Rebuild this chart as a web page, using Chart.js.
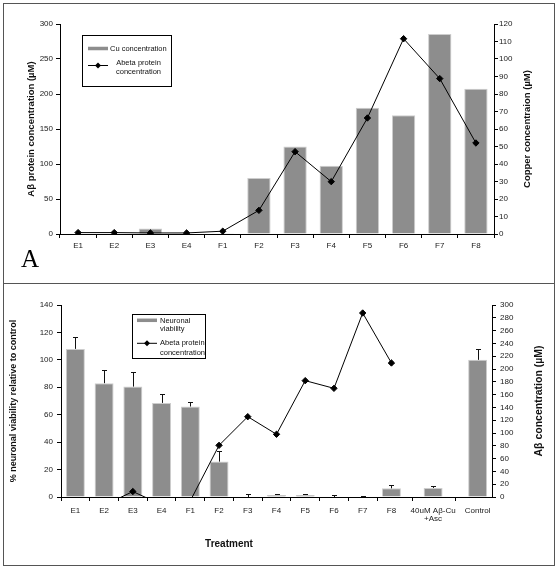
<!DOCTYPE html>
<html>
<head>
<meta charset="utf-8">
<script src="https://cdn.jsdelivr.net/npm/chart.js@4.4.1/dist/chart.umd.min.js"></script>
<style>
  html, body { margin: 0; padding: 0; background: #fff; width: 558px; height: 569px; overflow: hidden; }
  canvas { position: absolute; left: 0; }
  #topChart { top: 0; }
  #bottomChart { top: 283px; }
  #frame { position: absolute; left: 3px; top: 3px; width: 550px; height: 561px; border: 1px solid #555; pointer-events: none; }
  #divider { position: absolute; left: 3px; top: 283px; width: 552px; height: 1px; background: #555; }
</style>
</head>
<body>
<canvas id="topChart" width="558" height="283"></canvas>
<canvas id="bottomChart" width="558" height="286"></canvas>
<div id="frame"></div>
<div id="divider"></div>
<script>
/* ─── Data ─────────────────────────────────────── */

// panel A
const topCats = ['E1', 'E2', 'E3', 'E4', 'F1', 'F2', 'F3', 'F4', 'F5', 'F6', 'F7', 'F8'];
const cuConc = [0.3, 0.3, 3.2, 0.3, 0.5, 32, 50, 39, 72.2, 67.8, 114.3, 83];
const abetaTop = [2, 2, 1.5, 1.5, 4, 33.8, 117.6, 74.8, 165.7, 279, 222, 130];

// panel B (40uM sits a little right of its slot in the original)
const bottomCats = ['E1', 'E2', 'E3', 'E4', 'F1', 'F2', 'F3', 'F4', 'F5', 'F6', 'F7', 'F8', ['40uM Aβ-Cu', '+Asc'], 'Control'];
const bottomSlots = [0.5, 1.5, 2.5, 3.5, 4.5, 5.5, 6.5, 7.5, 8.5, 9.5, 10.5, 11.5, 12.95, 14.5];
const viability = [108, 83, 80.5, 68.6, 66, 25.8, 0, 1.5, 1.5, 0, 0, 6.3, 6.6, 100];
const viabilitySD = [9, 9.4, 11, 6.8, 3.3, 8, 2, 0.8, 0.8, 1.7, 1, 2.4, 1.6, 8];
const abetaBottom = [-10, -13, 8.5, -12, -6, 80.7, 125.5, 98, 181.8, 169.8, 287.5, 209.4];

/* ─── Styling ──────────────────────────────────── */

const FONT = "'Liberation Sans', Arial, sans-serif";
const BAR_GREY = '#8d8d8d';
Chart.defaults.font.family = FONT;
Chart.defaults.color = '#1a1a1a';

const axisGrid = { drawOnChartArea: false, tickLength: 4, tickColor: '#000', color: '#000' };
const tickFont = { size: 8 };

function diamond(ctx, x, y, r) {
  ctx.beginPath();
  ctx.moveTo(x, y - r); ctx.lineTo(x + r, y); ctx.lineTo(x, y + r); ctx.lineTo(x - r, y);
  ctx.closePath(); ctx.fill();
}

function vText(ctx, text, x, y, font) {
  ctx.save();
  ctx.translate(x, y); ctx.rotate(-Math.PI / 2);
  ctx.font = font; ctx.textAlign = 'center'; ctx.textBaseline = 'middle';
  ctx.fillText(text, 0, 0);
  ctx.restore();
}

function legendBox(ctx, box, swatch, lineSample) {
  ctx.save();
  ctx.strokeStyle = '#000'; ctx.lineWidth = 1;
  ctx.strokeRect(box.x, box.y, box.w, box.h);
  ctx.fillStyle = BAR_GREY;
  ctx.fillRect(swatch.x, swatch.y - 1.75, 20, 3.5);
  ctx.strokeStyle = '#000';
  ctx.beginPath(); ctx.moveTo(lineSample.x, lineSample.y); ctx.lineTo(lineSample.x + 20, lineSample.y); ctx.stroke();
  ctx.fillStyle = '#000';
  diamond(ctx, lineSample.x + 10, lineSample.y, 3);
  ctx.restore();
}

function labelText(ctx, text, x, y, align) {
  ctx.save();
  ctx.font = `7.5px ${FONT}`; ctx.fillStyle = '#111';
  ctx.textAlign = align; ctx.textBaseline = 'middle';
  ctx.fillText(text, x, y);
  ctx.restore();
}

/* ─── Panel A ──────────────────────────────────── */

const topDecor = {
  id: 'topDecor',
  afterDraw(chart) {
    const { ctx } = chart;
    ctx.fillStyle = '#111';
    vText(ctx, 'Aβ protein concentration (µM)', 31, 129, `bold 9.5px ${FONT}`);
    vText(ctx, 'Copper concentraion (µM)', 527, 129, `bold 9.5px ${FONT}`);

    ctx.save();
    ctx.font = "25px 'Liberation Serif', 'Times New Roman', serif";
    ctx.fillStyle = '#000'; ctx.textBaseline = 'alphabetic';
    ctx.fillText('A', 21, 267);
    ctx.restore();

    legendBox(ctx, { x: 82.5, y: 35.5, w: 89, h: 51 }, { x: 88, y: 48.5 }, { x: 88, y: 65.5 });
    labelText(ctx, 'Cu concentration', 110, 48.7, 'left');
    labelText(ctx, 'Abeta protein', 138.5, 62.5, 'center');
    labelText(ctx, 'concentration', 138.5, 71.5, 'center');
  }
};

new Chart(document.getElementById('topChart'), {
  type: 'bar',
  data: {
    labels: topCats,
    datasets: [
      {
        type: 'line', label: 'Abeta protein concentration', data: abetaTop, yAxisID: 'y', order: 0,
        borderColor: '#000', borderWidth: 1, tension: 0,
        pointStyle: 'rectRot', pointRadius: 3.2, pointBackgroundColor: '#000', pointBorderColor: '#000', pointBorderWidth: 1,
      },
      {
        type: 'bar', label: 'Cu concentration', data: cuConc, yAxisID: 'y2', order: 1,
        backgroundColor: BAR_GREY, borderColor: '#cdcdcd', borderWidth: 1, borderSkipped: 'bottom',
        categoryPercentage: 1, barPercentage: 0.645,
      },
    ]
  },
  options: {
    responsive: false, animation: false,
    layout: { padding: { top: 24, left: 0, right: 0, bottom: 0 } },
    plugins: { legend: { display: false }, tooltip: { enabled: false } },
    scales: {
      x: {
        grid: { ...axisGrid, offset: true }, border: { color: '#000' },
        ticks: { font: tickFont, padding: 3, maxRotation: 0, autoSkip: false },
        afterFit: s => { s.height = 49; },
      },
      y: {
        position: 'left', min: 0, max: 300,
        grid: axisGrid, border: { color: '#000' },
        ticks: { stepSize: 50, font: tickFont, padding: 3, autoSkip: false },
        afterFit: s => { s.width = 60; },
      },
      y2: {
        position: 'right', min: 0, max: 120,
        grid: axisGrid, border: { color: '#000' },
        ticks: { stepSize: 10, font: tickFont, padding: 1, autoSkip: false },
        afterFit: s => { s.width = 64; },
      },
    },
  },
  plugins: [topDecor],
});

/* ─── Panel B ──────────────────────────────────── */

const errorBars = {
  id: 'errorBars',
  afterDatasetsDraw(chart) {
    const { ctx, scales: { x, y } } = chart;
    ctx.save();
    ctx.strokeStyle = '#111'; ctx.lineWidth = 1;
    viability.forEach((v, i) => {
      const px = Math.round(x.getPixelForValue(bottomSlots[i])) + 0.5;
      const y0 = y.getPixelForValue(v);
      const y1 = Math.round(y.getPixelForValue(v + viabilitySD[i])) + 0.5;
      ctx.beginPath();
      ctx.moveTo(px, y0); ctx.lineTo(px, y1);
      ctx.moveTo(px - 2.5, y1); ctx.lineTo(px + 2.5, y1);
      ctx.stroke();
    });
    ctx.restore();
  }
};

const bottomDecor = {
  id: 'bottomDecor',
  afterDraw(chart) {
    const { ctx } = chart;
    ctx.fillStyle = '#111';
    vText(ctx, '% neuronal viability relative to control', 14, 118, `bold 9px ${FONT}`);
    vText(ctx, 'Aβ concentration (µM)', 539, 118, `bold 10.5px ${FONT}`);

    ctx.save();
    ctx.font = `bold 10px ${FONT}`; ctx.fillStyle = '#111';
    ctx.textAlign = 'center'; ctx.textBaseline = 'middle';
    ctx.fillText('Treatment', 229, 261);
    ctx.restore();

    legendBox(ctx, { x: 132.5, y: 31.5, w: 73, h: 44 }, { x: 137, y: 37.3 }, { x: 137, y: 60.3 });
    labelText(ctx, 'Neuronal', 160, 37.7, 'left');
    labelText(ctx, 'viability', 160, 46.3, 'left');
    labelText(ctx, 'Abeta protein', 160, 60.3, 'left');
    labelText(ctx, 'concentration', 160, 69.8, 'left');
  }
};

new Chart(document.getElementById('bottomChart'), {
  type: 'bar',
  data: {
    datasets: [
      {
        type: 'line', label: 'Abeta protein concentration', yAxisID: 'y2', order: 0,
        data: abetaBottom.map((v, i) => ({ x: bottomSlots[i], y: v })),
        borderColor: '#000', borderWidth: 1, tension: 0,
        pointStyle: 'rectRot', pointRadius: 3.2, pointBackgroundColor: '#000', pointBorderColor: '#000', pointBorderWidth: 1,
      },
      {
        type: 'bar', label: 'Neuronal viability', yAxisID: 'y', order: 1,
        data: viability.map((v, i) => ({ x: bottomSlots[i], y: v })),
        backgroundColor: BAR_GREY, borderColor: '#cdcdcd', borderWidth: 1, borderSkipped: 'bottom',
        categoryPercentage: 1, barPercentage: 0.66,
      },
    ]
  },
  options: {
    responsive: false, animation: false,
    layout: { padding: { top: 22, left: 0, right: 0, bottom: 0 } },
    plugins: { legend: { display: false }, tooltip: { enabled: false } },
    scales: {
      x: {
        type: 'linear', min: 0, max: 15, offset: false,
        grid: { ...axisGrid, offset: true }, border: { color: '#000' },
        afterBuildTicks: s => { s.ticks = bottomSlots.map(v => ({ value: v })); },
        ticks: {
          font: { size: 8, lineHeight: 1.1 }, padding: 5, maxRotation: 0, autoSkip: false,
          callback: (v, i) => bottomCats[i],
        },
        afterFit: s => { s.height = 72; },
      },
      y: {
        position: 'left', min: 0, max: 140,
        grid: axisGrid, border: { color: '#000' },
        ticks: { stepSize: 20, font: tickFont, padding: 4, autoSkip: false },
        afterFit: s => { s.width = 61; },
      },
      y2: {
        position: 'right', min: 0, max: 300,
        grid: axisGrid, border: { color: '#000' },
        ticks: { stepSize: 20, font: tickFont, padding: 4, autoSkip: false },
        afterFit: s => { s.width = 66; },
      },
    },
  },
  plugins: [errorBars, bottomDecor],
});
</script>
</body>
</html>
